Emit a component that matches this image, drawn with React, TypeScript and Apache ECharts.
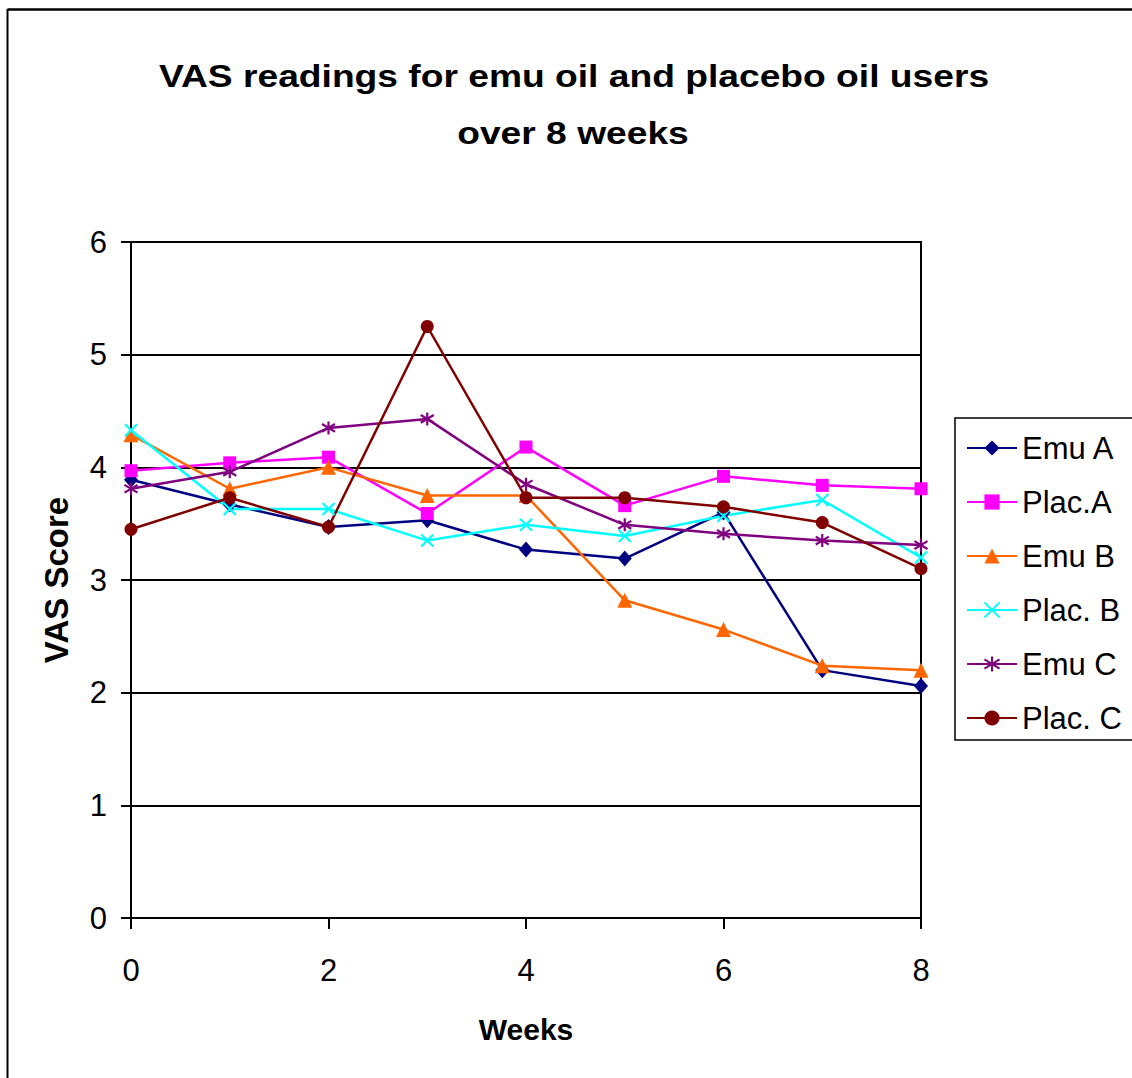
import React, { useEffect, useRef } from "react";
import * as echarts from "echarts";

const weeks = [0, 1, 2, 3, 4, 5, 6, 7, 8];
const seriesNames = ["Emu A", "Plac.A", "Emu B", "Plac. B", "Emu C", "Plac. C"];
const emuA = [3.89, 3.67, 3.47, 3.53, 3.27, 3.19, 3.6, 2.2, 2.06];
const placA = [3.97, 4.04, 4.09, 3.59, 4.18, 3.66, 3.92, 3.84, 3.81];
const emuB = [4.29, 3.81, 4.0, 3.75, 3.75, 2.82, 2.56, 2.24, 2.2];
const placB = [4.33, 3.63, 3.63, 3.35, 3.49, 3.39, 3.57, 3.71, 3.2];
const emuC = [3.81, 3.96, 4.35, 4.43, 3.85, 3.49, 3.41, 3.35, 3.31];
const placC = [3.45, 3.73, 3.47, 5.25, 3.73, 3.73, 3.65, 3.51, 3.1];
const colors = ["#000080", "#FF00FF", "#FF6600", "#00FFFF", "#800080", "#800000"];
const titleLines = ["VAS readings for emu oil and placebo oil users", "over 8 weeks"];
const xAxisName = "Weeks";
const yAxisName = "VAS Score";

const FONT = "'Liberation Sans', Arial, Helvetica, sans-serif";

export default function App() {
  const ref = useRef<HTMLDivElement>(null);
  useEffect(() => {
    if (!ref.current) return;
    const chart = echarts.init(ref.current, undefined, { renderer: "svg" });
    const values = [emuA, placA, emuB, placB, emuC, placC];
    const symbols = [
      "diamond",
      "rect",
      "triangle",
      "path://M0,0L10,10M10,0L0,10",
      "path://M5,0L5,10M0,2L10,8M0,8L10,2",
      "circle",
    ];
    const sizes: any[] = [[14, 16], 13, 15, 12, 13, 13];
    const stroked = [false, false, false, true, true, false];
    const series = values.map((vals, i) => ({
      name: seriesNames[i],
      type: "line",
      data: weeks.map((w, j) => [w, vals[j]]),
      symbol: symbols[i],
      symbolSize: sizes[i],
      showAllSymbol: true,
      lineStyle: { color: colors[i], width: 2.5 },
      itemStyle: stroked[i]
        ? { color: colors[i], borderColor: colors[i], borderWidth: 2.2 }
        : { color: colors[i], borderWidth: 0 },
      emphasis: { disabled: true },
    }));
    chart.setOption({
      animation: false,
      backgroundColor: "#ffffff",
      textStyle: { fontFamily: FONT },
      grid: {
        left: 131,
        top: 242,
        right: 211,
        bottom: 160,
        show: true,
        borderColor: "#000",
        borderWidth: 2,
        backgroundColor: "transparent",
      },
      xAxis: {
        type: "value",
        min: 0,
        max: 8,
        interval: 2,
        name: xAxisName,
        nameLocation: "middle",
        nameGap: 96,
        nameTextStyle: { fontSize: 30, fontWeight: "bold", color: "#000", fontFamily: FONT },
        axisLine: { show: true, onZero: false, lineStyle: { color: "#000", width: 2 } },
        axisTick: { show: true, inside: false, length: 11, lineStyle: { color: "#000", width: 2 } },
        axisLabel: { fontSize: 31, color: "#000", margin: 37, fontFamily: FONT },
        splitLine: { show: false },
      },
      yAxis: {
        type: "value",
        min: 0,
        max: 6,
        interval: 1,
        name: yAxisName,
        nameLocation: "middle",
        nameGap: 58,
        nameTextStyle: { fontSize: 33, fontWeight: "bold", color: "#000", fontFamily: FONT },
        axisLine: { show: true, lineStyle: { color: "#000", width: 2 } },
        axisTick: { show: true, inside: false, length: 10, lineStyle: { color: "#000", width: 2 } },
        axisLabel: { fontSize: 31, color: "#000", margin: 24, fontFamily: FONT },
        splitLine: { show: true, lineStyle: { color: "#000", width: 2 } },
      },
      legend: {
        orient: "vertical",
        left: 955,
        top: 418,
        padding: [14, 14, 6, 11],
        itemGap: 22,
        itemWidth: 50,
        itemHeight: 19,
        borderColor: "#000",
        borderWidth: 1.5,
        backgroundColor: "#fff",
        data: seriesNames,
        textStyle: { fontSize: 31, color: "#000", fontFamily: FONT, lineHeight: 32 },
      },
      graphic: [
        {
          type: "line",
          shape: { x1: 7.5, y1: 9.5, x2: 1132, y2: 9.5 },
          style: { stroke: "#000", lineWidth: 2.5 },
          silent: true,
        },
        {
          type: "line",
          shape: { x1: 7.5, y1: 9, x2: 7.5, y2: 1078 },
          style: { stroke: "#000", lineWidth: 2 },
          silent: true,
        },
        {
          type: "text",
          x: 574,
          y: 76,
          scaleX: 1.2,
          style: {
            text: titleLines[0],
            fontSize: 31,
            fontWeight: "bold",
            fontFamily: FONT,
            fill: "#000",
            align: "center",
            verticalAlign: "middle",
          },
          silent: true,
        },
        {
          type: "text",
          x: 573,
          y: 133,
          scaleX: 1.2,
          style: {
            text: titleLines[1],
            fontSize: 31,
            fontWeight: "bold",
            fontFamily: FONT,
            fill: "#000",
            align: "center",
            verticalAlign: "middle",
          },
          silent: true,
        },
      ],
      series,
    });
    return () => chart.dispose();
  }, []);
  return (
    <div
      ref={ref}
      style={{ position: "absolute", left: 0, top: 0, width: 1132, height: 1078 }}
    />
  );
}
